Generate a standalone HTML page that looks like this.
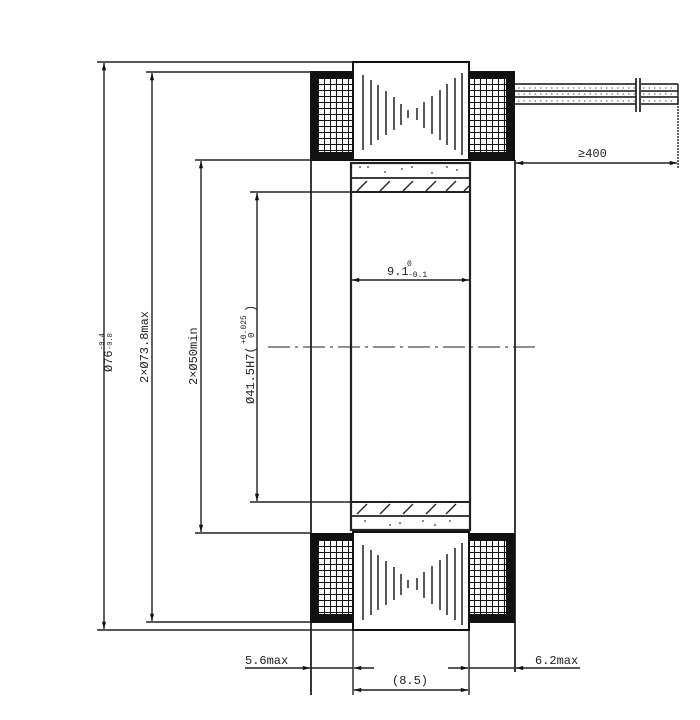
<!DOCTYPE html>
<html><head><meta charset="utf-8"><style>
html,body{margin:0;padding:0;background:#fff}
svg{display:block}
text{font-family:"Liberation Mono",monospace;fill:#222}
</style></head><body>
<svg width="700" height="720" viewBox="0 0 700 720" xmlns="http://www.w3.org/2000/svg">
<defs>
<pattern id="grid" x="0" y="0" width="6" height="6" patternUnits="userSpaceOnUse">
<rect width="6" height="6" fill="#fff"/>
<path d="M0 0H6M0 0V6" stroke="#111" stroke-width="2"/>
</pattern>
<marker id="a" viewBox="0 0 12 10" refX="12" refY="5" markerWidth="12" markerHeight="6" orient="auto-start-reverse" markerUnits="userSpaceOnUse">
<path d="M0 1.5L12 5L0 8.5z" fill="#111"/></marker>
</defs>
<g stroke="#222" stroke-width="1.4" fill="none">
<line x1="97" y1="62" x2="355" y2="62"/>
<line x1="146" y1="72" x2="311" y2="72"/>
<line x1="195" y1="160" x2="311" y2="160"/>
<line x1="250" y1="192" x2="351" y2="192"/>
<line x1="250" y1="502" x2="351" y2="502"/>
<line x1="195" y1="533" x2="311" y2="533"/>
<line x1="146" y1="622" x2="311" y2="622"/>
<line x1="97" y1="630" x2="355" y2="630"/>
<line x1="104" y1="63" x2="104" y2="629" marker-start="url(#a)" marker-end="url(#a)"/>
<line x1="152" y1="73" x2="152" y2="621" marker-start="url(#a)" marker-end="url(#a)"/>
<line x1="201" y1="161" x2="201" y2="532" marker-start="url(#a)" marker-end="url(#a)"/>
<line x1="257" y1="193" x2="257" y2="501" marker-start="url(#a)" marker-end="url(#a)"/>
<line x1="311" y1="160" x2="311" y2="695" stroke-width="1.8"/>
<line x1="515" y1="160" x2="515" y2="672" stroke-width="1.8"/>
<line x1="353" y1="630" x2="353" y2="695"/>
<line x1="469" y1="630" x2="469" y2="695"/>
<rect x="351" y="163" width="119" height="367" stroke-width="2.2"/>
<line x1="351" y1="178" x2="470" y2="178" stroke-width="1.8"/>
<line x1="351" y1="192" x2="470" y2="192" stroke-width="2"/>
<line x1="351" y1="502" x2="470" y2="502" stroke-width="2"/>
<line x1="351" y1="516" x2="470" y2="516" stroke-width="1.8"/>
<path d="M357 191l10-10M380 191l10-10M403 191l10-10M426 191l10-10M446 191l10-10M464 191l5-5M357 514l10-10M380 514l10-10M403 514l10-10M426 514l10-10M446 514l10-10"/>
<line x1="268" y1="347" x2="535" y2="347" stroke-dasharray="22 5 3 5" stroke-width="1"/>
<line x1="352" y1="280" x2="469" y2="280" marker-start="url(#a)" marker-end="url(#a)"/>
<line x1="678" y1="100" x2="678" y2="168" stroke-dasharray="2 1"/>
<line x1="516" y1="163" x2="677" y2="163" marker-start="url(#a)" marker-end="url(#a)"/>
<line x1="245" y1="668" x2="310" y2="668" marker-end="url(#a)"/>
<line x1="354" y1="668" x2="374" y2="668" marker-start="url(#a)"/>
<line x1="448" y1="668" x2="468" y2="668" marker-end="url(#a)"/>
<line x1="516" y1="668" x2="580" y2="668" marker-start="url(#a)"/>
<line x1="311" y1="668" x2="353" y2="668"/>
<line x1="469" y1="668" x2="515" y2="668"/>
<line x1="354" y1="690" x2="468" y2="690" marker-start="url(#a)" marker-end="url(#a)"/>
</g>
<g fill="#333">
<circle cx="360" cy="167" r=".9"/><circle cx="368" cy="167" r=".9"/><circle cx="385" cy="172" r=".9"/><circle cx="402" cy="169" r=".9"/><circle cx="412" cy="167" r=".9"/><circle cx="432" cy="173" r=".9"/><circle cx="447" cy="167" r=".9"/><circle cx="457" cy="170" r=".9"/>
<circle cx="365" cy="521" r=".9"/><circle cx="390" cy="525" r=".9"/><circle cx="400" cy="523" r=".9"/><circle cx="423" cy="521" r=".9"/><circle cx="435" cy="525" r=".9"/><circle cx="450" cy="521" r=".9"/>
</g>
<g>
<rect x="310" y="71" width="44" height="90" fill="#111"/>
<rect x="319" y="79" width="33" height="73" fill="url(#grid)"/>
<rect x="468" y="71" width="47" height="90" fill="#111"/>
<rect x="469" y="79" width="37" height="73" fill="url(#grid)"/>
<rect x="310" y="533" width="44" height="90" fill="#111"/>
<rect x="319" y="541" width="33" height="73" fill="url(#grid)"/>
<rect x="468" y="533" width="47" height="90" fill="#111"/>
<rect x="469" y="541" width="37" height="73" fill="url(#grid)"/>
</g>
<g stroke="#111" fill="#fff">
<rect x="353" y="62" width="116" height="98" stroke-width="2"/>
<rect x="353" y="532" width="116" height="98" stroke-width="2"/>
</g>
<g stroke="#222" stroke-width="1.5">
<path d="M363 75V150M371 80V145M378 85V140M386 91V135M394 97V130M401 104V125M408 110V118M417 108V120M424 102V128M432 96V134M440 90V140M447 84V145M455 78V150M462 73V155"/>
<path d="M363 545V620M371 550V615M378 555V610M386 561V605M394 567V600M401 574V595M408 580V588M417 578V590M424 572V598M432 566V604M440 560V610M447 554V615M455 548V620M462 543V625"/>
</g>
<g stroke="#111" fill="none" stroke-width="1.4">
<path d="M515 84H636M515 91H636M515 97H636M515 104H636M641 84H678M641 91H678M641 97H678M641 104H678M678 84V104"/>
<path d="M636 78V112M640 78V112" stroke-width="1.6"/>
</g>
<g stroke="#555" stroke-width="1" stroke-dasharray="1.5 4">
<path d="M518 88H635M518 94H635M518 101H635M643 88H676M643 94H676M643 101H676"/>
</g>
<g font-size="12">
<text transform="translate(112,372) rotate(-90)">Ø76</text>
<text transform="translate(104,350) rotate(-90)" font-size="7">-0.4</text>
<text transform="translate(112,350) rotate(-90)" font-size="7">-0.8</text>
<text transform="translate(148,383) rotate(-90)">2×Ø73.8max</text>
<text transform="translate(197,385) rotate(-90)">2×Ø50min</text>
<text transform="translate(254,404) rotate(-90)">Ø41.5H7(</text>
<text transform="translate(246,344) rotate(-90)" font-size="8">+0.025</text>
<text transform="translate(254,338) rotate(-90)" font-size="9">0</text>
<text transform="translate(254,312) rotate(-90)">)</text>
<text x="387" y="275">9.1</text>
<text x="407" y="266" font-size="8">0</text>
<text x="408" y="277" font-size="8">-0.1</text>
<text x="578" y="157">≥400</text>
<text x="245" y="664">5.6max</text>
<text x="535" y="664">6.2max</text>
<text x="392" y="684">(8.5)</text>
</g>
</svg>
</body></html>
